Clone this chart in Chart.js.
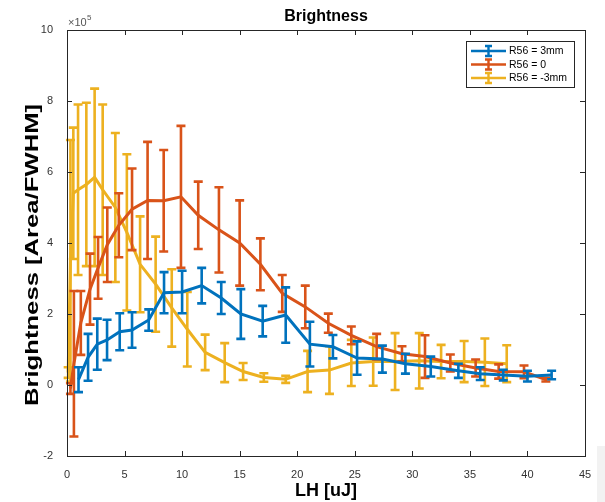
<!DOCTYPE html>
<html>
<head>
<meta charset="utf-8">
<script src="https://cdn.jsdelivr.net/npm/chart.js@4.4.1/dist/chart.umd.min.js"></script>
<style>
  html, body { margin: 0; padding: 0; background: #fff; }
  #wrap { position: relative; width: 605px; height: 502px; }
  #shade { position: absolute; left: 597px; top: 446px; width: 8px; height: 56px; background: #f2f2f2; }
</style>
</head>
<body>
<div id="wrap">
  <canvas id="chart" width="605" height="502"></canvas>
  <div id="shade"></div>
</div>
<script>
// values in units of 1e5 (axis shows x10^5)
const xTicks = [0, 5, 10, 15, 20, 25, 30, 35, 40, 45];
const yTicks = [-2, 0, 2, 4, 6, 8, 10];

// R56 = 3mm
const blueX = [1.0, 1.83, 2.63, 3.48, 4.58, 5.65, 7.1, 8.43, 10.0, 11.7, 13.4, 15.1, 17.0, 19.0, 21.1, 23.1, 25.2, 27.4, 29.4, 31.6, 34.0, 35.9, 37.9, 40.0, 42.1];
const blueY = [0.15, 0.78, 1.15, 1.27, 1.5, 1.55, 1.83, 2.6, 2.62, 2.8, 2.45, 2.0, 1.8, 1.97, 1.15, 1.08, 0.76, 0.73, 0.6, 0.52, 0.4, 0.32, 0.28, 0.25, 0.28];
const blueErr = [0.35, 0.66, 0.72, 0.57, 0.52, 0.5, 0.3, 0.58, 0.6, 0.5, 0.45, 0.7, 0.43, 0.78, 0.63, 0.33, 0.47, 0.38, 0.28, 0.28, 0.2, 0.18, 0.15, 0.15, 0.12];

// R56 = 0
const orangeX = [0.3, 0.6, 1.2, 2.0, 2.7, 3.5, 4.5, 5.65, 7.0, 8.4, 9.9, 11.4, 13.2, 15.0, 16.8, 18.7, 20.7, 22.7, 24.7, 26.9, 29.1, 31.1, 33.3, 35.5, 37.5, 39.7, 41.6];
const orangeY = [-0.1, 0.6, 1.75, 2.7, 3.3, 3.95, 4.5, 4.95, 5.2, 5.19, 5.3, 4.78, 4.37, 4.0, 3.4, 2.58, 2.2, 1.74, 1.4, 1.08, 0.88, 0.8, 0.62, 0.48, 0.38, 0.37, 0.15];
const orangeErr = [0.15, 2.05, 0.9, 1.0, 0.87, 1.05, 0.9, 1.15, 1.65, 1.43, 2.0, 0.95, 1.2, 1.2, 0.73, 0.52, 0.6, 0.27, 0.25, 0.36, 0.21, 0.6, 0.24, 0.24, 0.2, 0.18, 0.05];

// R56 = -3mm
const yellowX = [0.1, 0.3, 0.55, 0.96, 1.68, 2.4, 3.1, 4.2, 5.2, 6.35, 7.7, 9.1, 10.45, 12.0, 13.7, 15.3, 17.1, 19.0, 20.9, 22.8, 24.7, 26.6, 28.5, 30.6, 32.5, 34.5, 36.3, 38.2];
const yellowY = [0.35, 3.5, 5.4, 5.5, 5.65, 5.85, 5.5, 5.0, 4.3, 3.4, 2.84, 2.17, 1.57, 0.92, 0.63, 0.38, 0.21, 0.16, 0.38, 0.42, 0.62, 0.66, 0.66, 0.68, 0.66, 0.66, 0.64, 0.6];
const yellowErr = [0.15, 3.4, 1.85, 2.4, 2.3, 2.5, 2.4, 2.1, 2.2, 1.35, 1.34, 1.09, 1.05, 0.5, 0.55, 0.24, 0.12, 0.1, 0.58, 0.67, 0.65, 0.68, 0.8, 0.78, 0.47, 0.58, 0.67, 0.52];

const seriesNames = ['R56 = 3mm', 'R56 = 0', 'R56 = -3mm'];
const seriesColors = ['#0072BD', '#D95319', '#EDB120'];

const FONT = "'Liberation Sans', Arial, Helvetica, sans-serif";
const AXIS = '#262626';

function makeSet(i, xs, ys, es) {
  return {
    label: seriesNames[i],
    data: xs.map((x, k) => ({ x: x, y: ys[k] })),
    errors: es,
    borderColor: seriesColors[i],
    backgroundColor: seriesColors[i],
    borderWidth: 3,
    pointRadius: 0,
    tension: 0,
    clip: false
  };
}

// draws the vertical error bars right after each series line
const errorBars = {
  id: 'errorBars',
  afterDatasetDraw(chart, args) {
    const ds = chart.data.datasets[args.index];
    const ys = chart.scales.y;
    const ctx = chart.ctx;
    ctx.save();
    ctx.strokeStyle = ds.borderColor;
    ctx.lineWidth = 2.6;
    ctx.lineCap = 'butt';
    args.meta.data.forEach((pt, k) => {
      const v = ds.data[k].y, e = ds.errors[k];
      const top = ys.getPixelForValue(v + e), bot = ys.getPixelForValue(v - e);
      ctx.beginPath();
      ctx.moveTo(pt.x, top); ctx.lineTo(pt.x, bot);
      ctx.moveTo(pt.x - 4.5, top); ctx.lineTo(pt.x + 4.5, top);
      ctx.moveTo(pt.x - 4.5, bot); ctx.lineTo(pt.x + 4.5, bot);
      ctx.stroke();
    });
    ctx.restore();
  }
};

// matlab style box, inward ticks, title, y label, exponent and legend
const frame = {
  id: 'frame',
  afterDraw(chart) {
    const { ctx, chartArea: a, scales } = chart;
    ctx.save();
    ctx.strokeStyle = AXIS;
    ctx.lineWidth = 1;
    ctx.strokeRect(a.left + 0.5, a.top + 0.5, a.right - a.left, a.bottom - a.top);
    ctx.beginPath();
    xTicks.forEach(t => {
      const px = Math.round(scales.x.getPixelForValue(t)) + 0.5;
      ctx.moveTo(px, a.bottom); ctx.lineTo(px, a.bottom - 5);
      ctx.moveTo(px, a.top); ctx.lineTo(px, a.top + 5);
    });
    yTicks.forEach(t => {
      const py = Math.round(scales.y.getPixelForValue(t)) + 0.5;
      ctx.moveTo(a.left, py); ctx.lineTo(a.left + 5, py);
      ctx.moveTo(a.right, py); ctx.lineTo(a.right - 5, py);
    });
    ctx.stroke();

    // title
    ctx.fillStyle = '#000';
    ctx.font = 'bold 16px ' + FONT;
    ctx.textAlign = 'center';
    ctx.textBaseline = 'alphabetic';
    ctx.fillText('Brightness', (a.left + a.right) / 2, 21);

    // y label (reference is stretched along its length)
    ctx.save();
    ctx.translate(38, 255);
    ctx.rotate(-Math.PI / 2);
    ctx.scale(1.35, 1);
    ctx.font = 'bold 19px ' + FONT;
    ctx.fillText('Brightness [Area/FWHM]', 0, 0);
    ctx.restore();

    // exponent
    ctx.fillStyle = '#555';
    ctx.textAlign = 'left';
    ctx.font = '11px ' + FONT;
    ctx.fillText('\u00d710', a.left + 1, a.top - 4);
    ctx.font = '8px ' + FONT;
    ctx.fillText('5', a.left + 20, a.top - 10);

    // legend
    const lx = 466, ly = 41, lw = 108, lh = 46;
    ctx.fillStyle = '#fff';
    ctx.fillRect(lx, ly, lw, lh);
    ctx.strokeStyle = AXIS;
    ctx.lineWidth = 1;
    ctx.strokeRect(lx + 0.5, ly + 0.5, lw, lh);
    ctx.font = '10.5px ' + FONT;
    ctx.textBaseline = 'middle';
    seriesNames.forEach((name, i) => {
      const cy = ly + 10 + i * 13.5;
      ctx.strokeStyle = seriesColors[i];
      ctx.lineWidth = 2.4;
      ctx.beginPath();
      ctx.moveTo(lx + 5, cy); ctx.lineTo(lx + 40, cy);
      ctx.moveTo(lx + 22.5, cy - 5); ctx.lineTo(lx + 22.5, cy + 5);
      ctx.moveTo(lx + 19, cy - 5); ctx.lineTo(lx + 26, cy - 5);
      ctx.moveTo(lx + 19, cy + 5); ctx.lineTo(lx + 26, cy + 5);
      ctx.stroke();
      ctx.fillStyle = '#000';
      ctx.fillText(name, lx + 43, cy + 0.5);
    });
    ctx.restore();
  }
};

new Chart(document.getElementById('chart'), {
  type: 'line',
  data: {
    datasets: [
      makeSet(0, blueX, blueY, blueErr),
      makeSet(1, orangeX, orangeY, orangeErr),
      makeSet(2, yellowX, yellowY, yellowErr)
    ]
  },
  options: {
    responsive: false,
    animation: false,
    layout: { padding: { top: 30, right: 20, left: 0, bottom: 0 } },
    plugins: { legend: { display: false }, title: { display: false }, tooltip: { enabled: false } },
    scales: {
      x: {
        type: 'linear', min: 0, max: 45,
        afterBuildTicks: s => { s.ticks = xTicks.map(v => ({ value: v })); },
        afterFit: s => { s.height = 46; },
        grid: { display: false }, border: { display: false },
        ticks: { color: '#333', font: { family: FONT, size: 11 }, padding: 4, maxRotation: 0 },
        title: { display: true, text: 'LH [uJ]', color: '#000', font: { family: FONT, size: 18, weight: 'bold' }, padding: { top: 1, bottom: 0 } }
      },
      y: {
        type: 'linear', min: -2, max: 10,
        afterBuildTicks: s => { s.ticks = yTicks.map(v => ({ value: v })); },
        afterFit: s => { s.width = 67; },
        grid: { display: false }, border: { display: false },
        ticks: { color: '#333', font: { family: FONT, size: 11 }, padding: 6 },
        title: { display: false }
      }
    }
  },
  plugins: [errorBars, frame]
});
</script>
</body>
</html>
